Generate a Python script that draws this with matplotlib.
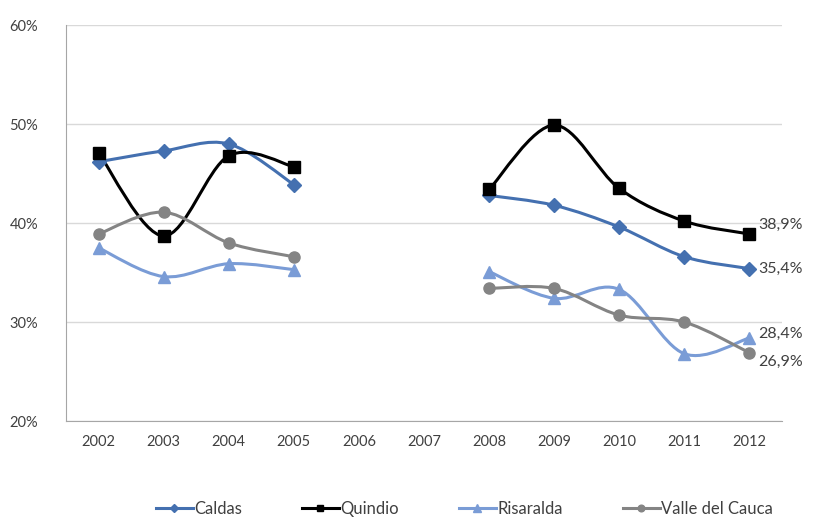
import numpy as np
import matplotlib
matplotlib.use("Agg")
import matplotlib.pyplot as plt
from matplotlib.path import Path
from matplotlib.patches import PathPatch
from matplotlib.ticker import FuncFormatter

years = ["2002", "2003", "2004", "2005", "2006", "2007", "2008", "2009", "2010", "2011", "2012"]
caldas = [46.2, 47.3, 48.0, 43.9, None, None, 42.8, 41.8, 39.6, 36.6, 35.4]
quindio = [47.1, 38.7, 46.8, 45.7, None, None, 43.4, 49.9, 43.5, 40.2, 38.9]
risaralda = [37.5, 34.6, 35.9, 35.3, None, None, 35.1, 32.4, 33.3, 26.8, 28.4]
valle = [38.9, 41.1, 38.0, 36.6, None, None, 33.4, 33.4, 30.7, 30.0, 26.9]
end_labels = ["35,4%", "38,9%", "28,4%", "26,9%"]

plt.rcParams['font.family'] = ['Lato', 'DejaVu Sans']

fig = plt.figure(figsize=(8.15, 5.25), dpi=100)
ax = fig.add_axes([0.081, 0.198, 0.8785, 0.754])

x = np.arange(len(years))

def smooth_segments(ax, xs, ys, color, lw):
    runs, cur = [], []
    for xi, yi in zip(xs, ys):
        if yi is None:
            if cur:
                runs.append(cur)
            cur = []
        else:
            cur.append((xi, yi))
    if cur:
        runs.append(cur)
    for run in runs:
        pts = np.array(run, dtype=float)
        n = len(pts)
        verts = [pts[0]]
        codes = [Path.MOVETO]
        for i in range(n - 1):
            p0 = pts[i - 1] if i > 0 else pts[i]
            p1 = pts[i]
            p2 = pts[i + 1]
            p3 = pts[i + 2] if i + 2 < n else pts[i + 1]
            c1 = p1 + (p2 - p0) / 6.0
            c2 = p2 - (p3 - p1) / 6.0
            verts += [c1, c2, p2]
            codes += [Path.CURVE4] * 3
        patch = PathPatch(Path(verts, codes), facecolor='none', edgecolor=color,
                          lw=lw, zorder=3, capstyle='round', joinstyle='round')
        ax.add_patch(patch)

series = [
    ("Caldas", caldas, "#4470B0", "D", 7),
    ("Quindio", quindio, "#000000", "s", 8),
    ("Risaralda", risaralda, "#7A9CD6", "^", 9),
    ("Valle del Cauca", valle, "#848484", "o", 8),
]

handles = []
for name, vals, color, marker, ms in series:
    smooth_segments(ax, x, vals, color, 2.2)
    yv = np.array([np.nan if v is None else v for v in vals])
    ax.plot(x, yv, linestyle='none', marker=marker, color=color, ms=ms, zorder=4)
    h, = ax.plot([], [], color=color, lw=2.2, marker=marker, ms=ms * 0.6)
    handles.append(h)

label_offsets = {"Caldas": (0.08, 0.0), "Quindio": (0.08, 0.9), "Risaralda": (0.08, 0.4), "Valle del Cauca": (0.08, -0.9)}
for (name, vals, color, marker, ms), lab in zip(series, end_labels):
    dx, dy = label_offsets[name]
    ax.text(x[-1] + dx + 0.05, vals[-1] + dy, lab, fontsize=11.5, color="#404040",
            va='center', ha='left', zorder=5)

ax.set_xlim(-0.5, len(years) - 0.5)
ax.set_ylim(20, 60)
ax.set_yticks([20, 30, 40, 50, 60])
ax.yaxis.set_major_formatter(FuncFormatter(lambda v, p: f"{v:.0f}%"))
ax.set_xticks(x)
ax.set_xticklabels(years)
ax.tick_params(axis='both', labelsize=10.5, colors="#404040", length=0)
ax.tick_params(axis='y', pad=20)
ax.tick_params(axis='x', pad=10)
ax.grid(axis='y', color="#d9d9d9", lw=1.0, zorder=0)
ax.set_axisbelow(True)
for s in ['top', 'right']:
    ax.spines[s].set_visible(False)
ax.spines['left'].set_color("#a6a6a6")
ax.spines['bottom'].set_color("#a6a6a6")

fig.legend(handles, [s[0] for s in series], loc='center', bbox_to_anchor=(0.57, 0.03),
           ncol=4, frameon=False, fontsize=12, handlelength=2.2, handletextpad=0.1,
           columnspacing=3.6, labelcolor="#404040")

fig.savefig("out.png", dpi=100)
